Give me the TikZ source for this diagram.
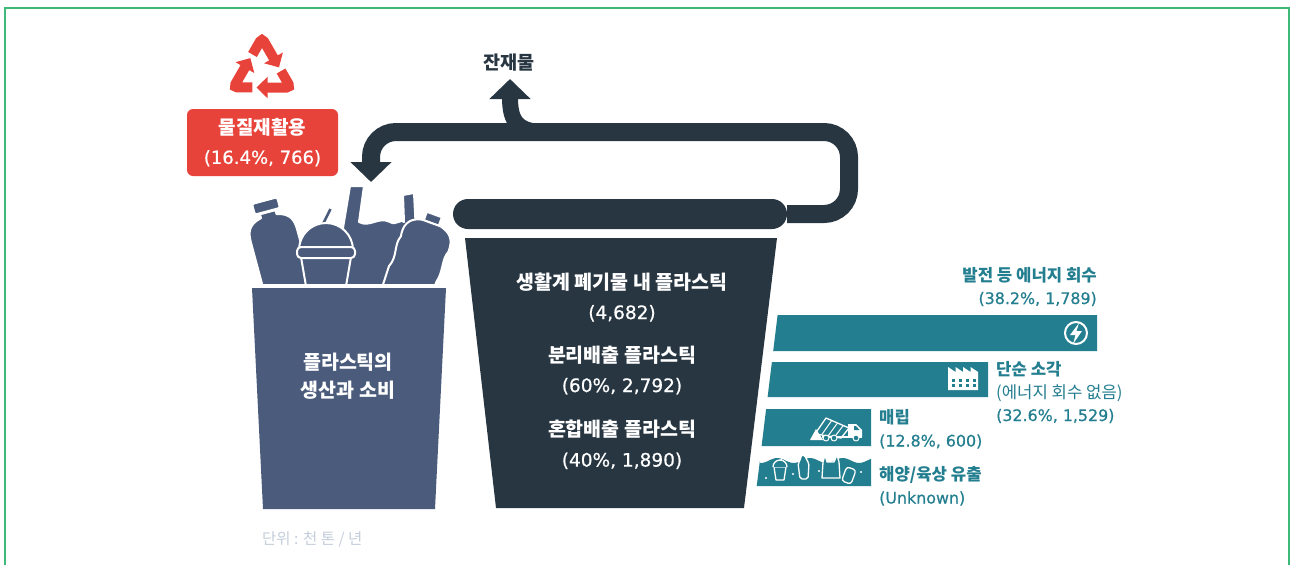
\documentclass[tikz,border=0pt]{standalone}
\usepackage{fontspec}
\setmainfont{Noto Sans CJK KR}
\newfontfamily\numfont{DejaVu Sans}[Scale=0.95,FakeBold=0.6]
\usetikzlibrary{arrows.meta,calc}

\definecolor{framegreen}{HTML}{3DB97A}
\definecolor{binblue}{HTML}{4A5B7B}
\definecolor{bindark}{HTML}{283642}
\definecolor{flowteal}{HTML}{237E8F}
\definecolor{recyred}{HTML}{E8433A}
\definecolor{unitgrey}{HTML}{C4CDDB}

\begin{document}
\begin{tikzpicture}[x=1pt,y=-1pt]
  \tikzstyle{bintext}=[text=white,align=center,font=\fontsize{19.5}{28}\selectfont\bfseries]
  \tikzstyle{wastetext}=[text=white,align=center,font=\fontsize{19.5}{30}\selectfont]
  \tikzstyle{barlabel}=[text=flowteal,font=\fontsize{16.7}{23}\selectfont,inner sep=0pt]
  \tikzstyle{flow}=[draw=bindark,line width=18pt,rounded corners=25pt]
  \tikzstyle{bigtip}=[-{Triangle[width=40pt,length=20pt]}]
  \tikzstyle{junk}=[fill=binblue,draw=white,line width=2pt,line join=round]
  \tikzstyle{icon}=[draw=white,line width=1.3pt,line join=round]
  \useasboundingbox (0,0) rectangle (1291,565);
  \draw[framegreen,line width=2pt] (5,566) -- (5,8) -- (1289,8) -- (1289,566);

  % recycling mark
  \begin{scope}[shift={(262,71)}]
    \foreach \r in {0,120,240}
      \draw[recyred,line width=10pt,rounded corners=4pt,rotate=\r,
            -{Triangle[width=21pt,length=11pt]}]
        (-9.5,-16.5) -- (0,-33) -- (17,-3.6);
  \end{scope}
  \node[bintext,fill=recyred,rounded corners=6pt,minimum width=151pt,
        minimum height=67pt,font=\fontsize{19}{29}\selectfont] (recycle) at (262.5,142.5)
    {\bfseries 물질재활용\\{\numfont (16.4\%, 766)}};

  % plastics sticking out of the left bin
  \begin{scope}
    \clip (230,170) rectangle (460,283);
    \draw[junk] (343,290) -- (343,228) -- (350,186) -- (364,186) -- (359,222)
      .. controls (370,228) and (378,216) .. (390,222)
      .. controls (396,226) and (402,218) .. (404,222) -- (403,195) -- (414,193)
      -- (416,232) -- (416,290) -- cycle;
    \begin{scope}[shift={(420,254)},rotate=-20]
      \draw[junk] (-8,-42) rectangle (8,-33);
      \draw[junk] (-10,-33) .. controls (-24,-30) and (-26,-20) .. (-24,-10)
        .. controls (-28,0) and (-20,10) .. (-25,22) -- (-24,50) -- (24,50)
        -- (25,20) .. controls (28,8) and (22,-2) .. (26,-12)
        .. controls (26,-24) and (22,-30) .. (10,-33) -- cycle;
    \end{scope}
    \begin{scope}[shift={(277,247)},rotate=15]
      \draw[junk,rounded corners=2pt] (-13,-48) rectangle (13,-37);
      \draw[junk] (-8,-36) -- (-8,-32) .. controls (-22,-29) and (-24,-21) .. (-24,-11)
        -- (-24,50) -- (24,50) -- (24,-11)
        .. controls (24,-21) and (22,-29) .. (8,-32) -- (8,-36) -- cycle;
    \end{scope}
    \draw[white,line width=6pt] (322,226) -- (331,208);
    \draw[binblue,line width=2.5pt] (322,226) -- (330.5,209);
    \draw[junk] (299,250) arc[start angle=180,end angle=0,radius=27pt];
    \draw[junk] (301,257) -- (351,257) -- (345,292) -- (307,292) -- cycle;
    \draw[junk,rounded corners=4pt] (297,247) rectangle (355,258);
  \end{scope}

  % left bin
  \fill[binblue] (252,288) -- (446,288) -- (435,509) -- (263,509) -- cycle;
  \node[bintext] (use) at (348,376) {플라스틱의\\생산과 소비};

  % household waste bin and its lid
  \fill[bindark] (465,238) -- (777,238) -- (744,508) -- (496,508) -- cycle;
  \node[fill=bindark,rounded corners=15pt,minimum width=334pt,minimum height=30pt,
        inner sep=0pt] (lid) at (620,214) {};
  \node[wastetext] (waste) at (622,297)
    {{\bfseries 생활계 폐기물 내 플라스틱}\\{\numfont (4,682)}};
  \node[wastetext] (sorted) at (622,370)
    {{\bfseries 분리배출 플라스틱}\\{\numfont (60\%, 2,792)}};
  \node[wastetext] (mixed) at (622,444.5)
    {{\bfseries 혼합배출 플라스틱}\\{\numfont (40\%, 1,890)}};

  % loop back to recycling, with the residue branching off
  \coordinate (intobin) at (371,182);
  \coordinate (branch) at (565,132);
  \node[text=bindark,font=\fontsize{18.5}{20}\selectfont\bfseries] (residue) at (509,63) {잔재물};
  \coordinate (residuetip) at (510,79);
  \draw[flow,bigtip] (lid.east) -- (849,214) -- (849,132) -- (371,132) -- (intobin);
  \draw[draw=bindark,line width=16pt,bigtip] (branch) -- (545,132)
    .. controls (518,132) and (510,122) .. (residuetip);

  % where it ends up
  \fill[flowteal] (777.6,315) -- (1097,315) -- (1097,351) -- (773.2,351) -- cycle;
  \fill[flowteal] (771.9,362) -- (988,362) -- (988,397) -- (767.6,397) -- cycle;
  \fill[flowteal] (766.1,409) -- (871,409) -- (871,446) -- (761.6,446) -- cycle;
  \fill[flowteal] (756.7,486) -- (759.9,461)
    -- plot[domain=760:871,samples=60] (\x,{460.5+2.5*sin(\x*11)})
    -- (871,486) -- cycle;

  % power
  \draw[white,line width=2pt] (1076,333) circle[radius=11pt];
  \fill[white] (1079,323) -- (1070,335) -- (1075.5,335) -- (1073,344) -- (1082,331)
    -- (1076.5,331) -- cycle;
  % incinerator
  \fill[white] (948,390) -- (948,367) -- (955.5,372) -- (955.5,367) -- (963,372)
    -- (963,367) -- (970.5,372) -- (970.5,367) -- (978,372) -- (978,390) -- cycle;
  \foreach \wx in {952,959,966,973}
    \foreach \wy in {379,384}
      \fill[flowteal] (\wx,\wy) rectangle ++(2.5,2.5);
  % dump truck
  \fill[white] (810,440) -- (816,429) -- (823,440) -- cycle;
  \draw[icon] (815,434) -- (826,418) -- (849,428) -- (841,438) -- cycle;
  \foreach \s in {0.25,0.5,0.75}
    \draw[icon,line width=1pt] ($(815,434)!\s!(841,438)$) -- ($(826,418)!\s!(849,428)$);
  \draw[icon] (822,437) -- (862,437);
  \fill[white] (848,424) -- (856,424) -- (862,430) -- (862,437) -- (848,437) -- cycle;
  \fill[flowteal] (854,426) -- (856,426) -- (859.5,430) -- (854,430) -- cycle;
  \foreach \wx in {826,834,856}
    \draw[icon,fill=flowteal,line width=1pt] (\wx,438) circle[radius=3pt];
  % litter in the sea
  \foreach \dx/\dy in {766/478,793/474,819/471,836/476,861/472}
    \fill[white] (\dx,\dy) circle[radius=1.2pt];
  \draw[icon,fill=flowteal] (774,467) -- (786,467) -- (784,480) -- (776,480) -- cycle;
  \draw[icon,fill=flowteal] (773,467) arc[start angle=180,end angle=0,radius=7pt];
  \draw[icon] (781,460) -- (783,455);
  \draw[icon,fill=flowteal,rounded corners=2pt] (800,479) -- (798,463) -- (801,459)
    -- (801,455) -- (805,455) -- (806,459) -- (809,463) -- (808,479) -- cycle;
  \draw[icon,fill=flowteal] (822,478) -- (823,462) -- (825,455) -- (827,462) -- (834,462)
    -- (837,455) -- (839,462) -- (840,478) -- cycle;
  \draw[icon,fill=flowteal,rounded corners=3pt,rotate around={-20:(849,475)}]
    (844,468) rectangle (854,483);

  \node[barlabel,anchor=east,align=right] (energy) at (1097,286.5)
    {{\bfseries 발전 등 에너지 회수}\\{\numfont (38.2\%, 1,789)}};
  \node[barlabel,anchor=west,align=left] (burn) at (996,392)
    {{\bfseries 단순 소각}\\(에너지 회수 없음)\\{\numfont (32.6\%, 1,529)}};
  \node[barlabel,anchor=west,align=left] (landfill) at (879,429)
    {{\bfseries 매립}\\{\numfont (12.8\%, 600)}};
  \node[barlabel,anchor=west,align=left] (leak) at (879,486)
    {{\bfseries 해양/육상 유출}\\{\numfont (Unknown)}};

  \node[anchor=west,inner sep=0pt,text=unitgrey,font=\fontsize{15.5}{17}\selectfont] (unit)
    at (262,539) {단위 : 천 톤 / 년};
\end{tikzpicture}
\end{document}
